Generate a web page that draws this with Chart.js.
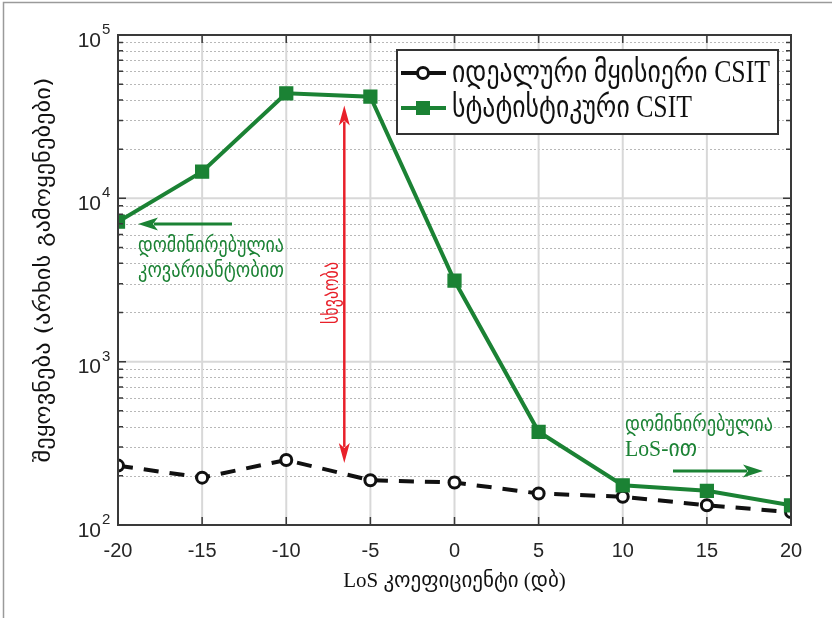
<!DOCTYPE html>
<html>
  <head>
    <script src="https://cdn.jsdelivr.net/npm/chart.js@4/dist/chart.umd.min.js"></script>
    <style>
      body { margin: 0; background: #fff; }
    </style>
  </head>
  <body>
    <canvas id="canvas" width="832" height="618"></canvas>
    <script>
      // LoS factor (dB)
      const losDb = [-20, -15, -10, -5, 0, 5, 10, 15, 20];
      // delay values (channel uses)
      const idealCsit = [231, 195, 250, 188, 182, 156, 149, 132, 120];
      const statCsit = [7190, 14550, 43950, 41900, 3130, 372, 175, 162, 132];
      const yDecades = [100, 1000, 10000, 100000];

      const seriesNames = ['იდეალური მყისიერი CSIT', 'სტატისტიკური CSIT'];
      const xTitle = 'LoS კოეფიციენტი (დბ)';
      const yTitle = 'შეყოვნება (არხის გამოყენებები)';
      const noteDominated = 'დომინირებულია';
      const noteCovariance = 'კოვარიანტობით';
      const noteLos = 'LoS-ით';
      const noteGap = 'სხვაობა';

      const GREEN = '#1b8234';
      const RED = '#e8202a';
      const INK = '#262626';
      const GEO_FONT = '"Liberation Serif", "DejaVu Sans"';

      // draw text squeezed/stretched horizontally to a given width
      function fitText(ctx, text, x, y, width, font, color, align) {
        ctx.save();
        ctx.font = font;
        ctx.fillStyle = color;
        ctx.textBaseline = 'middle';
        ctx.textAlign = 'left';
        const w = ctx.measureText(text).width;
        const sx = width / w;
        const x0 = align === 'center' ? x - width / 2 : x;
        ctx.translate(x0, y);
        ctx.scale(sx, 1);
        ctx.fillText(text, 0, 0);
        ctx.restore();
      }

      function arrow(ctx, x1, y1, x2, y2, color, lw, headLen, headW) {
        const ang = Math.atan2(y2 - y1, x2 - x1);
        ctx.save();
        ctx.strokeStyle = color;
        ctx.fillStyle = color;
        ctx.lineWidth = lw;
        ctx.beginPath();
        ctx.moveTo(x1, y1);
        ctx.lineTo(x2 - Math.cos(ang) * headLen * 0.8, y2 - Math.sin(ang) * headLen * 0.8);
        ctx.stroke();
        ctx.translate(x2, y2);
        ctx.rotate(ang);
        ctx.beginPath();
        ctx.moveTo(0, 0);
        ctx.lineTo(-headLen, -headW / 2);
        ctx.lineTo(-headLen * 0.75, 0);
        ctx.lineTo(-headLen, headW / 2);
        ctx.closePath();
        ctx.fill();
        ctx.restore();
      }

      const paperPlugin = {
        id: 'paper',
        beforeDraw(chart) {
          const ctx = chart.ctx;
          ctx.save();
          ctx.fillStyle = '#fff';
          ctx.fillRect(0, 0, chart.width, chart.height);
          ctx.strokeStyle = '#9a9a9a';
          ctx.lineWidth = 1.5;
          ctx.beginPath();
          ctx.moveTo(3.5, chart.height);
          ctx.lineTo(3.5, 2.5);
          ctx.lineTo(chart.width, 2.5);
          ctx.stroke();
          ctx.restore();
        },
        beforeDatasetsDraw(chart) {
          const ctx = chart.ctx;
          const { left, right, top, bottom } = chart.chartArea;
          const xs = chart.scales.x, ys = chart.scales.y;
          ctx.save();
          // minor dotted lines
          ctx.strokeStyle = '#b8b8b8';
          ctx.lineWidth = 1;
          ctx.setLineDash([2, 2]);
          yDecades.slice(0, -1).forEach((d) => {
            for (let m = 2; m <= 9; m++) {
              const y = Math.round(ys.getPixelForValue(m * d)) + 0.5;
              ctx.beginPath();
              ctx.moveTo(left, y);
              ctx.lineTo(right, y);
              ctx.stroke();
            }
          });
          ctx.setLineDash([]);
          ctx.strokeStyle = '#d8d8d8';
          ctx.lineWidth = 2;
          yDecades.forEach((d) => {
            const y = ys.getPixelForValue(d);
            ctx.beginPath();
            ctx.moveTo(left, y);
            ctx.lineTo(right, y);
            ctx.stroke();
          });
          losDb.forEach((v) => {
            const x = xs.getPixelForValue(v);
            ctx.beginPath();
            ctx.moveTo(x, top);
            ctx.lineTo(x, bottom);
            ctx.stroke();
          });
          ctx.restore();
        },
        afterDatasetsDraw(chart) {
          const ctx = chart.ctx;
          const { left, right, top, bottom } = chart.chartArea;
          const xs = chart.scales.x, ys = chart.scales.y;
          ctx.save();
          // frame
          ctx.strokeStyle = '#3a3a3a';
          ctx.lineWidth = 2;
          ctx.strokeRect(left, top, right - left, bottom - top);
          // inner ticks
          ctx.lineWidth = 1.5;
          ctx.beginPath();
          losDb.forEach((v) => {
            const x = xs.getPixelForValue(v);
            ctx.moveTo(x, bottom); ctx.lineTo(x, bottom - 8);
            ctx.moveTo(x, top); ctx.lineTo(x, top + 8);
          });
          yDecades.forEach((d, i) => {
            const maxM = i < yDecades.length - 1 ? 9 : 1;
            for (let m = 1; m <= maxM; m++) {
              const y = ys.getPixelForValue(m * d);
              const len = m === 1 ? 8 : 5;
              ctx.moveTo(left, y); ctx.lineTo(left + len, y);
              ctx.moveTo(right, y); ctx.lineTo(right - len, y);
            }
          });
          ctx.stroke();

          // y tick labels 10^n
          ctx.fillStyle = INK;
          ctx.textBaseline = 'middle';
          yDecades.forEach((d) => {
            const y = ys.getPixelForValue(d);
            const exp = Math.round(Math.log10(d));
            ctx.font = '21px "Liberation Sans"';
            ctx.textAlign = 'right';
            ctx.fillText('10', 101, y + 6);
            ctx.font = '15px "Liberation Sans"';
            ctx.textAlign = 'left';
            ctx.fillText(String(exp), 102, y - 5);
          });

          // y axis title
          ctx.save();
          ctx.translate(45, 270);
          ctx.rotate(-Math.PI / 2);
          fitText(ctx, yTitle, 0, 0, 385, '21px "DejaVu Sans"', '#111', 'center');
          ctx.restore();

          // red double arrow "difference"
          const ax = xs.getPixelForValue(-6.55);
          const ay1 = ys.getPixelForValue(37000);
          const ay2 = ys.getPixelForValue(240);
          const amid = (ay1 + ay2) / 2;
          arrow(ctx, ax, amid, ax, ay1, RED, 2.5, 20, 11);
          arrow(ctx, ax, amid, ax, ay2, RED, 2.5, 20, 11);
          ctx.save();
          ctx.translate(332, 293);
          ctx.rotate(-Math.PI / 2);
          fitText(ctx, noteGap, 0, 0, 62, '22px ' + GEO_FONT, RED, 'center');
          ctx.restore();

          // green notes
          arrow(ctx, 232, 224, 138, 224, GREEN, 3, 20, 13);
          fitText(ctx, noteDominated, 138, 246, 146, '22px ' + GEO_FONT, GREEN);
          fitText(ctx, noteCovariance, 138, 271, 146, '22px ' + GEO_FONT, GREEN);
          fitText(ctx, noteDominated, 625, 425, 148, '22px ' + GEO_FONT, GREEN);
          fitText(ctx, noteLos, 625, 450, 72, '23px ' + GEO_FONT, GREEN);
          arrow(ctx, 673, 471, 763, 471, GREEN, 3, 20, 13);

          // legend
          const lx = 397, ly = 50, lw = 381, lh = 84;
          ctx.fillStyle = '#fff';
          ctx.fillRect(lx, ly, lw, lh);
          ctx.strokeStyle = '#333';
          ctx.lineWidth = 2;
          ctx.strokeRect(lx, ly, lw, lh);
          const rows = [
            { y: 73, ds: chart.data.datasets[0], w: 318 },
            { y: 108, ds: chart.data.datasets[1], w: 240 },
          ];
          rows.forEach((r) => {
            ctx.strokeStyle = r.ds.borderColor;
            ctx.lineWidth = 4;
            ctx.beginPath();
            ctx.moveTo(401, r.y);
            ctx.lineTo(446, r.y);
            ctx.stroke();
            if (r.ds.pointStyle === 'circle') {
              ctx.fillStyle = '#fff';
              ctx.lineWidth = 3;
              ctx.beginPath();
              ctx.arc(423, r.y, 5.5, 0, Math.PI * 2);
              ctx.fill();
              ctx.stroke();
            } else {
              ctx.fillStyle = r.ds.pointBackgroundColor;
              ctx.fillRect(416, r.y - 7, 14, 14);
            }
            fitText(ctx, r.ds.label, 452, r.y + 1, r.w, '31px ' + GEO_FONT, '#111');
          });
          ctx.restore();
        },
      };

      new Chart(document.getElementById('canvas').getContext('2d'), {
        type: 'line',
        data: {
          datasets: [
            {
              label: seriesNames[0],
              data: losDb.map((x, i) => ({ x, y: idealCsit[i] })),
              borderColor: '#111',
              borderWidth: 4,
              borderDash: [15, 11],
              pointStyle: 'circle',
              pointRadius: 5.5,
              pointBorderWidth: 3,
              pointBackgroundColor: '#fff',
              pointBorderColor: '#111',
              order: 1,
            },
            {
              label: seriesNames[1],
              data: losDb.map((x, i) => ({ x, y: statCsit[i] })),
              borderColor: GREEN,
              borderWidth: 4,
              pointStyle: 'rect',
              pointRadius: 9,
              pointBorderWidth: 1.5,
              pointBackgroundColor: GREEN,
              pointBorderColor: GREEN,
              order: 0,
            },
          ],
        },
        options: {
          responsive: false,
          animation: false,
          layout: { padding: { left: 0, top: 35, right: 41, bottom: 0 } },
          plugins: { legend: { display: false }, tooltip: { enabled: false } },
          scales: {
            x: {
              type: 'linear',
              min: -20,
              max: 20,
              afterFit: (s) => { s.height = 93; },
              ticks: { stepSize: 5, padding: 14, color: INK, font: { family: 'Liberation Sans', size: 20 } },
              grid: { display: false, drawTicks: false },
              border: { display: false },
              title: {
                display: true,
                text: xTitle,
                color: '#111',
                font: { family: GEO_FONT, size: 21 },
                padding: { top: 0, bottom: 24 },
              },
            },
            y: {
              type: 'logarithmic',
              min: 100,
              max: 100000,
              afterFit: (s) => { s.width = 118; },
              ticks: { display: false },
              grid: { display: false, drawTicks: false },
              border: { display: false },
              title: { display: false },
            },
          },
        },
        plugins: [paperPlugin],
      });
    </script>
  </body>
</html>
